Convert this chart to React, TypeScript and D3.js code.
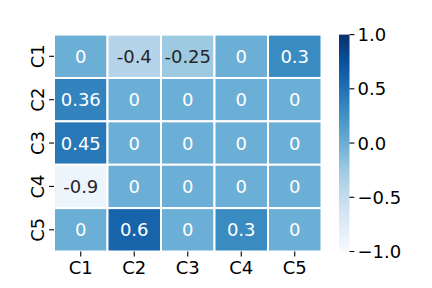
import React from 'react';
import * as d3 from 'd3';

const rowLabels = ['C1', 'C2', 'C3', 'C4', 'C5'];
const colLabels = ['C1', 'C2', 'C3', 'C4', 'C5'];
const values = [
  [0, -0.4, -0.25, 0, 0.3],
  [0.36, 0, 0, 0, 0],
  [0.45, 0, 0, 0, 0],
  [-0.9, 0, 0, 0, 0],
  [0, 0.6, 0, 0.3, 0],
];
const cbTicks = [1.0, 0.5, 0.0, -0.5, -1.0];
const blues = ['#f7fbff', '#deebf7', '#c6dbef', '#9ecae1', '#6baed6', '#4292c6', '#2171b5', '#08519c', '#08306b'];

const W = 432;
const H = 288;
const plot = { left: 54, right: 321.5, top: 34.6, bottom: 251.5 };
const cb = { left: 339, right: 349.5 };
const font = 'DejaVu Sans, sans-serif';

const color = d3.scaleLinear<string>()
  .domain(blues.map((_, i) => -1 + (2 * i) / (blues.length - 1)))
  .range(blues)
  .interpolate(d3.interpolateRgb)
  .clamp(true);

const fmtCb = (v: number) => d3.format('.1f')(v).replace('-', '\u2212');

// relative luminance like seaborn, to pick dark or light annotation text
const lin = (c: number) => {
  const s = c / 255;
  return s <= 0.03928 ? s / 12.92 : ((s + 0.055) / 1.055) ** 2.4;
};
const textColor = (v: number) => {
  const c = d3.rgb(color(v));
  const lum = 0.2126 * lin(c.r) + 0.7152 * lin(c.g) + 0.0722 * lin(c.b);
  return lum > 0.408 ? '#262626' : '#ffffff';
};

const App = () => {
  const x = d3.scaleBand().domain(colLabels).range([plot.left, plot.right]);
  const y = d3.scaleBand().domain(rowLabels).range([plot.top, plot.bottom]);
  const cbY = d3.scaleLinear().domain([-1, 1]).range([plot.bottom, plot.top]);

  return (
    <svg
      width={W}
      height={H}
      style={{ position: 'absolute', left: 0, top: 0, background: '#fff' }}
      fontFamily={font}
    >
      <defs>
        <linearGradient id="cbGrad" x1="0" y1="1" x2="0" y2="0">
          {blues.map((c, i) => (
            <stop key={c} offset={i / (blues.length - 1)} stopColor={c} />
          ))}
        </linearGradient>
      </defs>
      {values.map((row, i) => row.map((v, j) => (
        <g key={`${i}-${j}`}>
          <rect
            x={x(colLabels[j])}
            y={y(rowLabels[i])}
            width={x.bandwidth()}
            height={y.bandwidth()}
            fill={color(v)}
            stroke="#fff"
            strokeWidth={2}
          />
          <text
            x={(x(colLabels[j]) as number) + x.bandwidth() / 2}
            y={(y(rowLabels[i]) as number) + y.bandwidth() / 2}
            dy="0.36em"
            textAnchor="middle"
            fontSize={18}
            fill={textColor(v)}
          >
            {String(v)}
          </text>
        </g>
      )))}
      {colLabels.map((c) => {
        const cx = (x(c) as number) + x.bandwidth() / 2;
        return (
          <g key={`x-${c}`}>
            <line x1={cx} x2={cx} y1={plot.bottom} y2={plot.bottom + 4.9} stroke="#000" strokeWidth={1.1} />
            <text x={cx} y={274} textAnchor="middle" fontSize={18} fill="#000">{c}</text>
          </g>
        );
      })}
      {rowLabels.map((r) => {
        const cy = (y(r) as number) + y.bandwidth() / 2;
        return (
          <g key={`y-${r}`}>
            <line x1={plot.left - 4.9} x2={plot.left} y1={cy} y2={cy} stroke="#000" strokeWidth={1.1} />
            <text
              transform={`translate(44, ${cy}) rotate(-90)`}
              textAnchor="middle"
              fontSize={18}
              fill="#000"
            >
              {r}
            </text>
          </g>
        );
      })}
      <rect
        x={cb.left}
        y={plot.top}
        width={cb.right - cb.left}
        height={plot.bottom - plot.top}
        fill="url(#cbGrad)"
      />
      {cbTicks.map((t) => (
        <g key={`cb-${t}`}>
          <line x1={cb.right} x2={cb.right + 4.9} y1={cbY(t)} y2={cbY(t)} stroke="#000" strokeWidth={1.1} />
          <text x={357.5} y={cbY(t)} dy="0.36em" fontSize={18} fill="#000">{fmtCb(t)}</text>
        </g>
      ))}
    </svg>
  );
};

export default App;
